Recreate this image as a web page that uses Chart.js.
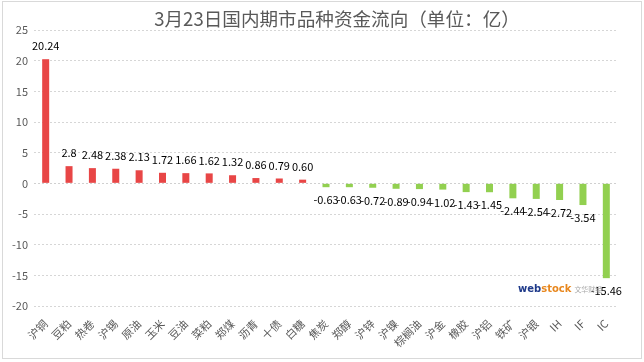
<!DOCTYPE html>
<html>
<head>
<meta charset="utf-8">
<script src="https://cdn.jsdelivr.net/npm/chart.js@4/dist/chart.umd.min.js"></script>
<style>
  html,body{margin:0;padding:0;background:#fff;}
  #wrap{position:relative;width:644px;height:362px;}
  #frame{position:absolute;left:2px;top:1px;width:638px;height:356px;border:1px solid #d9d9d9;pointer-events:none;}
  #title{position:absolute;left:0;width:674px;top:6px;text-align:center;font-family:'Noto Sans CJK SC',sans-serif;font-size:18.6px;color:#595959;white-space:nowrap;line-height:24px;}
  #wm{position:absolute;left:518px;top:283px;font-family:'DejaVu Sans',sans-serif;font-size:10px;font-weight:bold;white-space:nowrap;}
  #wm .a{color:#1f3a8a;} #wm .b{color:#e8871e;} #wm .c{color:#aaa;font-weight:normal;font-size:7px;font-family:'Noto Sans CJK SC';margin-left:3px;}
</style>
</head>
<body>
<div id="wrap">
  <canvas id="chart" width="644" height="362"></canvas>
  <div id="frame"></div>
  <div id="title">3月23日国内期市品种资金流向（单位：亿）</div>
  <div id="wm"><span class="a">web</span><span class="b">stock</span><span class="c">文华财经</span></div>
</div>
<script>
// 3月23日 资金流向
const categories = ['沪铜','豆粕','热卷','沪锡','原油','玉米','豆油','菜粕','郑煤','沥青','十债','白糖',
  '焦炭','郑醇','沪锌','沪镍','棕榈油','沪金','橡胶','沪铝','铁矿','沪银','IH','IF','IC'];

const flows = [20.24, 2.8, 2.48, 2.38, 2.13, 1.72, 1.66, 1.62, 1.32, 0.86, 0.79, 0.60,
  -0.63, -0.63, -0.72, -0.89, -0.94, -1.02, -1.43, -1.45, -2.44, -2.54, -2.72, -3.54, -15.46];

const labelText = ['20.24','2.8','2.48','2.38','2.13','1.72','1.66','1.62','1.32','0.86','0.79','0.60',
  '-0.63','-0.63','-0.72','-0.89','-0.94','-1.02','-1.43','-1.45','-2.44','-2.54','-2.72','-3.54','-15.46'];

const yMin = -20, yMax = 25, yStep = 5;

const RED = '#e84646';
const GREEN = '#92d050';
const TXT = '#595959';
const FONT = "'Noto Sans CJK SC', 'Noto Sans', sans-serif";

const valueLabels = {
  id: 'valueLabels',
  afterDatasetsDraw(chart){
    const ctx = chart.ctx;
    const meta = chart.getDatasetMeta(0);
    ctx.save();
    ctx.font = '11px ' + FONT;
    ctx.fillStyle = '#000';
    ctx.textAlign = 'center';
    ctx.textBaseline = 'middle';
    meta.data.forEach((bar, i) => {
      const v = flows[i];
      const y = v >= 0 ? bar.y - 13 : bar.y + 13;
      ctx.fillText(labelText[i], bar.x, y);
    });
    ctx.restore();
  }
};

new Chart(document.getElementById('chart'), {
  type: 'bar',
  data: {
    labels: categories,
    datasets: [{
      data: flows,
      backgroundColor: flows.map(v => v >= 0 ? RED : GREEN),
      borderWidth: 0,
      barPercentage: 0.3,
      categoryPercentage: 1
    }]
  },
  options: {
    responsive: false,
    animation: false,
    layout: { padding: { left: 0, right: 26, top: 30, bottom: 0 } },
    plugins: {
      legend: { display: false },
      tooltip: { enabled: false },
      title: { display: false }
    },
    scales: {
      x: {
        grid: { display: false },
        border: { display: false },
        ticks: {
          color: TXT,
          font: { family: FONT, size: 11 },
          maxRotation: 45,
          minRotation: 45,
          autoSkip: false
        },
        afterFit(scale){ scale.height = 56; }
      },
      y: {
        min: yMin,
        max: yMax,
        ticks: {
          stepSize: yStep,
          color: TXT,
          font: { family: FONT, size: 11 },
          padding: 6
        },
        grid: {
          color: ctx => ctx.tick && ctx.tick.value === 0 ? '#d0d0d0' : '#d6d6d6',
          drawTicks: false
        },
        border: { display: false, dash: [2, 2] },
        afterFit(scale){ scale.width = 34; }
      }
    }
  },
  plugins: [valueLabels]
});
</script>
</body>
</html>
